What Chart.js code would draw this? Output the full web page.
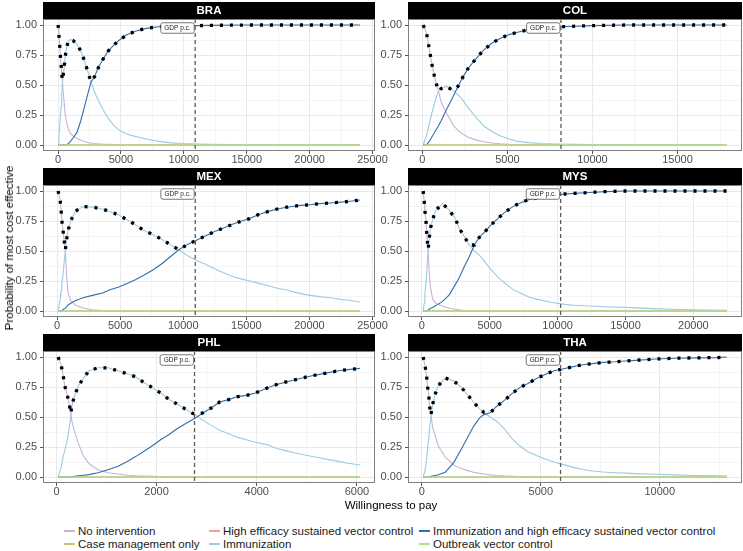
<!DOCTYPE html>
<html>
<head>
<meta charset="utf-8">
<script src="https://cdn.jsdelivr.net/npm/chart.js@4.4.1/dist/chart.umd.min.js"></script>
<style>
  body { margin: 0; background: #fff; }
  #wrap { position: relative; width: 743px; height: 551px; overflow: hidden; background: #fff;
          font-family: "Liberation Sans", Arial, sans-serif; }
  canvas { position: absolute; }
  .title { position: absolute; font-size: 11.5px; color: #000; white-space: nowrap; z-index: 2;
           transform: translate(-50%, -50%); }
  #yTitle { transform: translate(-50%, -50%) rotate(-90deg); }
  .key { position: absolute; width: 11px; height: 1.5px; z-index: 2; }
  .lab { position: absolute; font-size: 11.5px; line-height: 13px; color: #1a1a1a; white-space: nowrap; z-index: 2; }
</style>
</head>
<body>
<div id="wrap">
  <div class="title" id="xTitle" style="left:391px;top:505px">Willingness to pay</div>
  <div class="title" id="yTitle" style="left:9px;top:248px">Probability of most cost effective</div>
</div>
<script>
// ---- data ----
const countries = ["BRA", "COL", "MEX", "MYS", "PHL", "THA"];
const probTicks = [0, 0.25, 0.5, 0.75, 1];

// GDP per capita marker per country
const braGdp = 10900, colGdp = 8150, mexGdp = 10950, mysGdp = 10220, phlGdp = 2757, thaGdp = 5831;
const gdpLabelLevel = 0.975;

// high efficacy vector control, case management and outbreak control sit at 0 everywhere
const otherStrategyLevel = 0;

const braTicks = [0, 5000, 10000, 15000, 20000, 25000];
const braWtp = [0, 60, 120, 180, 240, 290, 340, 400, 470, 550, 650, 800, 950, 1200, 1500, 1800, 2100, 2400, 2600,
  2900, 3200, 3600, 4000, 4500, 5000, 5500, 6200, 7000, 8000, 9000, 10000, 12000, 15000, 18000, 21000, 24000];
const braNoInt = [1.0, 0.92, 0.84, 0.75, 0.67, 0.59, 0.54, 0.45, 0.37, 0.27, 0.20, 0.14, 0.10, 0.075, 0.055, 0.04,
  0.03, 0.02, 0.017, 0.013, 0.01, 0.007, 0.005, 0.003, 0, 0, 0, 0, 0, 0, 0, 0, 0, 0, 0, 0];
const braImm = [0, 0.06, 0.15, 0.24, 0.32, 0.42, 0.52, 0.58, 0.63, 0.72, 0.80, 0.86, 0.88, 0.87, 0.84, 0.785, 0.70,
  0.60, 0.53, 0.44, 0.37, 0.29, 0.22, 0.155, 0.115, 0.09, 0.07, 0.05, 0.03, 0.018, 0.012, 0.006, 0.002, 0, 0, 0];
const braImmHigh = [0, 0, 0, 0, 0, 0, 0, 0, 0, 0, 0, 0.01, 0.025, 0.06, 0.105, 0.2, 0.32, 0.44, 0.52, 0.57, 0.645,
  0.72, 0.785, 0.84, 0.885, 0.92, 0.95, 0.972, 0.985, 0.99, 0.993, 0.997, 1, 1, 1, 1];

const colTicks = [0, 5000, 10000, 15000];
const colWtp = [50, 250, 350, 450, 550, 700, 800, 950, 1100, 1400, 1800, 2100, 2400, 2700, 3100, 3600, 4100, 4600,
  5100, 5600, 6200, 7000, 8000, 9000, 10000, 12000, 14000, 16000, 17900];
const colNoInt = [1.0, 0.93, 0.85, 0.77, 0.68, 0.58, 0.52, 0.45, 0.36, 0.27, 0.17, 0.12, 0.09, 0.065, 0.045, 0.027,
  0.017, 0.01, 0.005, 0.003, 0, 0, 0, 0, 0, 0, 0, 0, 0];
const colImm = [0, 0.08, 0.14, 0.2, 0.26, 0.34, 0.39, 0.45, 0.47, 0.49, 0.455, 0.42, 0.37, 0.31, 0.24, 0.16, 0.11,
  0.075, 0.05, 0.03, 0.02, 0.012, 0.008, 0.005, 0.003, 0, 0, 0, 0];
const colImmHigh = [0, 0, 0.02, 0.04, 0.065, 0.1, 0.125, 0.16, 0.2, 0.29, 0.40, 0.49, 0.57, 0.64, 0.71, 0.79, 0.85,
  0.89, 0.92, 0.94, 0.96, 0.975, 0.985, 0.99, 0.995, 1, 1, 1, 1];

const mexTicks = [0, 5000, 10000, 15000, 20000, 25000];
const mexWtp = [80, 240, 320, 370, 475, 555, 660, 740, 870, 1080, 1425, 2060, 2800, 3600, 4250, 4900, 5550, 6200,
  6900, 7550, 8250, 8950, 9650, 10350, 11050, 11750, 12450, 13150, 13850, 14500, 15250, 16000, 16750, 17450, 18200,
  19300, 20050, 20800, 21600, 22300, 23100, 24000];
const mexNoInt = [1.0, 0.925, 0.84, 0.76, 0.67, 0.59, 0.50, 0.31, 0.15, 0.085, 0.05, 0.025, 0.01, 0.004, 0.001, 0, 0,
  0, 0, 0, 0, 0, 0, 0, 0, 0, 0, 0, 0, 0, 0, 0, 0, 0, 0, 0, 0, 0, 0, 0, 0, 0];
const mexImm = [0, 0.09, 0.17, 0.22, 0.31, 0.40, 0.51, 0.59, 0.67, 0.75, 0.83, 0.87, 0.866, 0.85, 0.825, 0.80, 0.76,
  0.72, 0.67, 0.64, 0.60, 0.555, 0.51, 0.46, 0.42, 0.39, 0.355, 0.32, 0.29, 0.27, 0.25, 0.23, 0.21, 0.19, 0.175,
  0.145, 0.13, 0.12, 0.11, 0.10, 0.09, 0.075];
const mexImmHigh = [0, 0, 0, 0, 0.01, 0.02, 0.025, 0.033, 0.05, 0.065, 0.085, 0.11, 0.13, 0.15, 0.18, 0.2, 0.23,
  0.26, 0.30, 0.34, 0.39, 0.45, 0.51, 0.555, 0.59, 0.625, 0.66, 0.69, 0.72, 0.745, 0.77, 0.805, 0.83, 0.85, 0.865,
  0.88, 0.885, 0.895, 0.90, 0.905, 0.913, 0.925];

const mysTicks = [0, 5000, 10000, 15000, 20000];
const mysWtp = [100, 170, 220, 300, 345, 395, 470, 540, 615, 790, 1030, 1530, 2020, 2460, 2760, 3130, 3500, 3870,
  4240, 4610, 5020, 5590, 6080, 6700, 7320, 7930, 8600, 9500, 10500, 11200, 12000, 12700, 13500, 15000, 17000, 19000,
  21000, 22460];
const mysNoInt = [1.0, 0.92, 0.84, 0.76, 0.68, 0.59, 0.50, 0.33, 0.22, 0.10, 0.065, 0.04, 0.025, 0.015, 0.01, 0.004,
  0, 0, 0, 0, 0, 0, 0, 0, 0, 0, 0, 0, 0, 0, 0, 0, 0, 0, 0, 0, 0, 0];
const mysImm = [0, 0.06, 0.14, 0.22, 0.30, 0.40, 0.515, 0.595, 0.68, 0.76, 0.84, 0.895, 0.84, 0.77, 0.69, 0.62,
  0.55, 0.50, 0.465, 0.415, 0.355, 0.285, 0.235, 0.18, 0.145, 0.115, 0.095, 0.073, 0.055, 0.048, 0.044, 0.04, 0.036,
  0.03, 0.02, 0.012, 0.007, 0.005];
const mysImmHigh = [0, 0, 0, 0, 0, 0, 0.01, 0.015, 0.02, 0.03, 0.045, 0.08, 0.135, 0.22, 0.28, 0.37, 0.455, 0.55,
  0.615, 0.655, 0.71, 0.77, 0.82, 0.87, 0.905, 0.93, 0.945, 0.955, 0.975, 0.98, 0.985, 0.99, 0.995, 1, 1, 1, 1, 1];

const phlTicks = [0, 2000, 4000, 6000];
const phlWtp = [33, 93, 133, 166, 219, 259, 285, 312, 359, 439, 532, 651, 830, 1030, 1230, 1415, 1580, 1735, 1915,
  2080, 2235, 2400, 2600, 2765, 2935, 3090, 3260, 3440, 3620, 3790, 3970, 4200, 4390, 4570, 4760, 5060, 5250, 5435,
  5635, 5820, 6060];
const phlNoInt = [1.0, 0.935, 0.85, 0.76, 0.68, 0.60, 0.53, 0.46, 0.38, 0.28, 0.18, 0.11, 0.06, 0.035, 0.025, 0.015,
  0.01, 0.007, 0.005, 0.003, 0, 0, 0, 0, 0, 0, 0, 0, 0, 0, 0, 0, 0, 0, 0, 0, 0, 0, 0, 0, 0];
const phlImm = [0, 0.08, 0.17, 0.22, 0.32, 0.42, 0.50, 0.60, 0.675, 0.76, 0.82, 0.885, 0.91, 0.91, 0.885, 0.86,
  0.835, 0.79, 0.745, 0.70, 0.65, 0.61, 0.56, 0.52, 0.47, 0.43, 0.39, 0.36, 0.33, 0.31, 0.29, 0.27, 0.24, 0.22, 0.20,
  0.175, 0.16, 0.145, 0.13, 0.115, 0.10];
const phlImmHigh = [0, 0, 0, 0, 0, 0, 0, 0, 0.005, 0.01, 0.015, 0.02, 0.035, 0.06, 0.09, 0.13, 0.17, 0.21, 0.26,
  0.31, 0.35, 0.40, 0.45, 0.49, 0.535, 0.575, 0.625, 0.645, 0.67, 0.68, 0.70, 0.74, 0.77, 0.79, 0.81, 0.84, 0.855,
  0.87, 0.885, 0.895, 0.905];

const thaTicks = [0, 5000, 10000];
const thaWtp = [56, 140, 200, 240, 295, 325, 380, 450, 550, 690, 985, 1340, 1650, 1900, 2170, 2420, 2600, 2870,
  3150, 3480, 3790, 4110, 4460, 4820, 5170, 5560, 5910, 6370, 6760, 7180, 7630, 8130, 8550, 8970, 9820, 10660, 11510,
  12390, 12820];
const thaNoInt = [1.0, 0.92, 0.84, 0.755, 0.67, 0.59, 0.515, 0.42, 0.35, 0.26, 0.165, 0.10, 0.07, 0.055, 0.04, 0.03,
  0.025, 0.018, 0.012, 0.008, 0.005, 0.003, 0, 0, 0, 0, 0, 0, 0, 0, 0, 0, 0, 0, 0, 0, 0, 0, 0];
const thaImm = [0, 0.06, 0.15, 0.24, 0.33, 0.41, 0.49, 0.60, 0.685, 0.76, 0.825, 0.80, 0.75, 0.69, 0.625, 0.57,
  0.54, 0.50, 0.465, 0.40, 0.32, 0.26, 0.21, 0.18, 0.15, 0.125, 0.105, 0.08, 0.062, 0.05, 0.042, 0.036, 0.032, 0.028,
  0.023, 0.018, 0.012, 0.009, 0.008];
const thaImmHigh = [0, 0, 0, 0, 0, 0.002, 0.005, 0.008, 0.012, 0.018, 0.04, 0.12, 0.23, 0.32, 0.42, 0.49, 0.52,
  0.535, 0.59, 0.64, 0.695, 0.745, 0.78, 0.82, 0.855, 0.885, 0.90, 0.92, 0.935, 0.945, 0.955, 0.96, 0.967, 0.972,
  0.983, 0.99, 0.993, 0.995, 1.0];

const legendLabels = ["No intervention", "Case management only", "High efficacy sustained vector control",
  "Immunization", "Immunization and high efficacy sustained vector control", "Outbreak vector control"];
const legendColors = ["#cab2d6", "#cfc274", "#fb9a99", "#9ecae1", "#2f6fad", "#b2df8a"];

// ---- panels ----
const panels = [
  { wtp: braWtp, noInt: braNoInt, imm: braImm, immHigh: braImmHigh, gdp: braGdp, ticks: braTicks },
  { wtp: colWtp, noInt: colNoInt, imm: colImm, immHigh: colImmHigh, gdp: colGdp, ticks: colTicks },
  { wtp: mexWtp, noInt: mexNoInt, imm: mexImm, immHigh: mexImmHigh, gdp: mexGdp, ticks: mexTicks },
  { wtp: mysWtp, noInt: mysNoInt, imm: mysImm, immHigh: mysImmHigh, gdp: mysGdp, ticks: mysTicks },
  { wtp: phlWtp, noInt: phlNoInt, imm: phlImm, immHigh: phlImmHigh, gdp: phlGdp, ticks: phlTicks },
  { wtp: thaWtp, noInt: thaNoInt, imm: thaImm, immHigh: thaImmHigh, gdp: thaGdp, ticks: thaTicks },
];

Chart.defaults.font.family = '"Liberation Sans", Arial, sans-serif';

const wrap = document.getElementById("wrap");
const FONT = '"Liberation Sans", Arial, sans-serif';

// major ticks plus ggplot-style minor breaks halfway between them
function gridTicks(major, lo, hi) {
  const step = major[1] - major[0];
  const ext = [major[0] - step, ...major, major[major.length - 1] + step];
  const out = major.filter(v => v >= lo && v <= hi).map(v => ({ value: v }));
  for (let i = 0; i < ext.length - 1; i++) {
    const m = (ext[i] + ext[i + 1]) / 2;
    if (m >= lo && m <= hi) out.push({ value: m, minor: true });
  }
  return out.sort((a, b) => a.value - b.value);
}

const gridOpts = {
  color: c => (c.tick && c.tick.minor ? "#f4f4f4" : "#e9e9e9"),
  tickColor: c => (c.tick && c.tick.minor ? "rgba(0,0,0,0)" : "#555"),
  tickLength: 3,
  lineWidth: 1,
};

const panelDecor = {
  id: "panelDecor",
  afterDatasetsDraw(chart, args, opts) {
    const { ctx, chartArea: a, scales } = chart;
    const gx = scales.x.getPixelForValue(opts.gdp);
    ctx.save();
    ctx.strokeStyle = "#5a5a5a";
    ctx.lineWidth = 1.3;
    ctx.setLineDash([4, 3]);
    ctx.beginPath();
    ctx.moveTo(gx, a.top);
    ctx.lineTo(gx, a.bottom);
    ctx.stroke();
    ctx.setLineDash([]);

    // GDP label box, right edge on the line
    ctx.font = "6.5px " + FONT;
    const tw = ctx.measureText("GDP p.c.").width;
    const w = tw + 7, h = 10.5, r = 2;
    const cy = scales.y.getPixelForValue(opts.labelY);
    const x0 = gx - w - 1, y0 = cy - h / 2;
    ctx.beginPath();
    ctx.moveTo(x0 + r, y0);
    ctx.arcTo(x0 + w, y0, x0 + w, y0 + h, r);
    ctx.arcTo(x0 + w, y0 + h, x0, y0 + h, r);
    ctx.arcTo(x0, y0 + h, x0, y0, r);
    ctx.arcTo(x0, y0, x0 + w, y0, r);
    ctx.closePath();
    ctx.fillStyle = "#fff";
    ctx.fill();
    ctx.strokeStyle = "#555";
    ctx.lineWidth = 0.8;
    ctx.stroke();
    ctx.fillStyle = "#222";
    ctx.textAlign = "center";
    ctx.textBaseline = "middle";
    ctx.fillText("GDP p.c.", x0 + w / 2, cy + 0.5);
    ctx.restore();
  },
  afterDraw(chart, args, opts) {
    const { ctx, chartArea: a } = chart;
    ctx.save();
    ctx.strokeStyle = "#7f7f7f";
    ctx.lineWidth = 1;
    ctx.strokeRect(a.left + 0.5, a.top + 0.5, a.right - a.left - 1, a.bottom - a.top - 1);
    ctx.fillStyle = "#000";
    ctx.fillRect(a.left, a.top - 17, a.right - a.left, 17);
    ctx.fillStyle = "#fff";
    ctx.font = "bold 11.5px " + FONT;
    ctx.textAlign = "center";
    ctx.textBaseline = "middle";
    ctx.fillText(opts.name, (a.left + a.right) / 2, a.top - 8);
    ctx.restore();
  },
};

panels.forEach((p, i) => {
  const col = i % 2, row = Math.floor(i / 2);
  const left = col === 0 ? 0 : 365;
  const width = col === 0 ? 400 : 378;
  const top = [1, 167, 333][row];
  const height = 172;

  const canvas = document.createElement("canvas");
  canvas.width = width;
  canvas.height = height;
  canvas.style.left = left + "px";
  canvas.style.top = top + "px";
  canvas.style.width = width + "px";
  canvas.style.height = height + "px";
  wrap.insertBefore(canvas, wrap.firstChild);

  const lo = p.wtp[0], hi = p.wtp[p.wtp.length - 1];
  const span = hi - lo;
  const xMin = lo - 0.05 * span, xMax = hi + 0.05 * span;

  const pts = arr => p.wtp.map((x, k) => ({ x, y: arr[k] }));
  const flat = p.wtp.map(x => ({ x, y: otherStrategyLevel }));
  const frontier = p.wtp.map((x, k) => ({ x, y: Math.max(p.noInt[k], p.imm[k], p.immHigh[k]) }));
  const line = (data, color, w) => ({ data, borderColor: color, borderWidth: w, pointRadius: 0, tension: 0, fill: false });

  new Chart(canvas.getContext("2d"), {
    type: "line",
    data: {
      datasets: [
        { data: frontier, borderColor: "#000", borderWidth: 3.3, borderDash: [3, 7], pointRadius: 0, tension: 0, fill: false },
        line(flat, legendColors[5], 1.3),
        line(pts(p.immHigh), legendColors[4], 1.1),
        line(pts(p.imm), legendColors[3], 1.1),
        line(flat, legendColors[2], 1.1),
        line(flat, legendColors[1], 1.1),
        line(pts(p.noInt), legendColors[0], 1.1),
      ],
    },
    options: {
      responsive: false,
      animation: false,
      devicePixelRatio: 1,
      layout: { padding: { top: 18, left: 0, right: col === 0 ? 25 : 1, bottom: 0 } },
      plugins: {
        legend: { display: false },
        tooltip: { enabled: false },
        panelDecor: { name: countries[i], gdp: p.gdp, labelY: gdpLabelLevel },
      },
      scales: {
        x: {
          type: "linear",
          min: xMin,
          max: xMax,
          afterBuildTicks: s => { s.ticks = gridTicks(p.ticks, xMin, xMax); },
          afterFit: s => { s.height = 22; s.paddingLeft = 0; s.paddingRight = 0; },
          grid: gridOpts,
          border: { display: false },
          ticks: {
            autoSkip: false, maxRotation: 0, padding: -1, color: "#4d4d4d", font: { size: 11 },
            callback: (v, k, t) => (t[k].minor ? "" : String(v)),
          },
        },
        y: {
          min: -0.05,
          max: 1.05,
          afterBuildTicks: s => { s.ticks = gridTicks(probTicks, -0.05, 1.05); },
          afterFit: s => { s.width = 43; s.paddingTop = 0; s.paddingBottom = 0; },
          grid: gridOpts,
          border: { display: false },
          ticks: {
            autoSkip: false, padding: 3, color: "#4d4d4d", font: { size: 11 },
            callback: (v, k, t) => (t[k].minor ? "" : v.toFixed(2)),
          },
        },
      },
    },
    plugins: [panelDecor],
  });
});

// ---- legend (two rows, filled by column) ----
const legendCols = [78, 223, 433];
const legendRows = [531, 544];
legendLabels.forEach((label, k) => {
  const c = Math.floor(k / 2), r = k % 2;
  const key = document.createElement("div");
  key.className = "key";
  key.style.left = (legendCols[c] - 14) + "px";
  key.style.top = (legendRows[r] - 0.75) + "px";
  key.style.background = legendColors[k];
  wrap.appendChild(key);
  const lab = document.createElement("div");
  lab.className = "lab";
  lab.textContent = label;
  lab.style.left = legendCols[c] + "px";
  lab.style.top = (legendRows[r] - 6.5) + "px";
  wrap.appendChild(lab);
});
</script>
</body>
</html>
